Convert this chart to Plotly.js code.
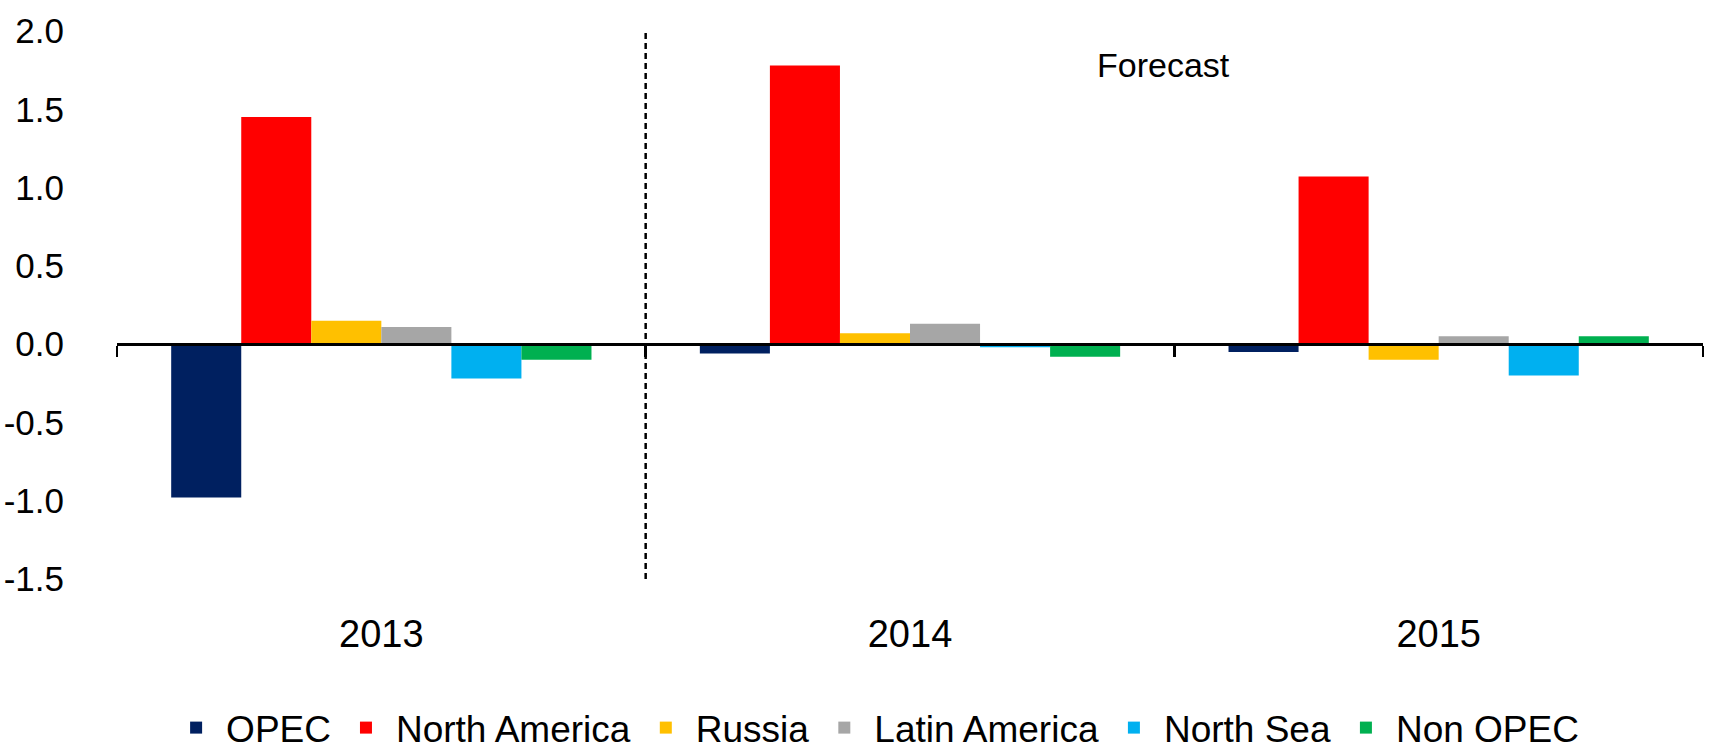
<!DOCTYPE html>
<html>
<head>
<meta charset="utf-8">
<script src="https://cdn.plot.ly/plotly-3.0.1.min.js"></script>
<style>
  html, body { margin: 0; padding: 0; background: #fff; }
  #chart { width: 1709px; height: 750px; }
</style>
</head>
<body>
<div id="chart"></div>
<script>
// Annual change in supply by region (mb/d)
const years = ['2013', '2014', '2015'];

const opec          = [-0.98, -0.06, -0.05];
const northAmerica  = [ 1.45,  1.78,  1.07];
const russia        = [ 0.15,  0.07, -0.10];
const latinAmerica  = [ 0.11,  0.13,  0.05];
const northSea      = [-0.22, -0.02, -0.20];
const nonOpec       = [-0.10, -0.08,  0.05];

const seriesNames  = ['OPEC', 'North America', 'Russia', 'Latin America', 'North Sea', 'Non OPEC'];
const seriesValues = [opec, northAmerica, russia, latinAmerica, northSea, nonOpec];
const seriesColors = ['#002060', '#FF0000', '#FFC000', '#A6A6A6', '#00B0F0', '#00B050'];

// y tick labels written with a plain hyphen for negatives
const yTickVals = [-1.5, -1.0, -0.5, 0.0, 0.5, 1.0, 1.5, 2.0];
const yTickText = ['-1.5', '-1.0', '-0.5', '0.0', '0.5', '1.0', '1.5', '2.0'];

const forecastLabel = 'Forecast';

const FONT = 'Liberation Sans, Arial, sans-serif';
const yMin = -1.5, yMax = 2.0;

const traces = seriesNames.map((name, i) => ({
  type: 'bar',
  name: name,
  x: years,
  y: seriesValues[i],
  marker: { color: seriesColors[i], line: { width: 0 } },
  hoverinfo: 'x+y+name'
}));

const layout = {
  width: 1709,
  height: 750,
  margin: { l: 117, r: 6, t: 31, b: 171, autoexpand: false },
  paper_bgcolor: '#ffffff',
  plot_bgcolor: '#ffffff',
  font: { family: FONT, size: 37, color: '#000000' },
  barmode: 'group',
  bargap: 0.205,
  bargroupgap: 0,
  showlegend: true,
  legend: {
    orientation: 'h',
    x: 0.478, xanchor: 'center',
    y: -0.272, yanchor: 'middle',
    font: { family: FONT, size: 37, color: '#000' },
    itemwidth: 50,
    traceorder: 'normal'
  },
  xaxis: {
    type: 'category',
    anchor: 'free',
    position: (0 - yMin) / (yMax - yMin),
    automargin: false,
    showline: true,
    linecolor: '#000',
    linewidth: 2.5,
    ticks: 'outside',
    tickson: 'boundaries',
    ticklen: 11,
    tickwidth: 2.5,
    tickcolor: '#000',
    showgrid: false,
    zeroline: false,
    ticklabelstandoff: 256,
    tickfont: { family: FONT, size: 38, color: '#000' }
  },
  yaxis: {
    range: [yMin, yMax],
    automargin: false,
    tickmode: 'array',
    tickvals: yTickVals,
    ticktext: yTickText,
    showline: false,
    showgrid: false,
    zeroline: false,
    ticks: '',
    ticklabelstandoff: 52,
    tickfont: { family: FONT, size: 35, color: '#000' }
  },
  shapes: [{
    type: 'line',
    xref: 'x', yref: 'y',
    x0: 0.5, x1: 0.5,
    y0: yMin, y1: yMax,
    line: { color: '#000', width: 2.5, dash: '6px,4px' }
  }],
  annotations: [{
    xref: 'x', yref: 'y',
    x: 1.48, y: 1.78,
    text: forecastLabel,
    showarrow: false,
    xanchor: 'center', yanchor: 'middle',
    font: { family: FONT, size: 34, color: '#000' }
  }]
};

Plotly.newPlot('chart', traces, layout, { displayModeBar: false, staticPlot: true });
</script>
</body>
</html>
